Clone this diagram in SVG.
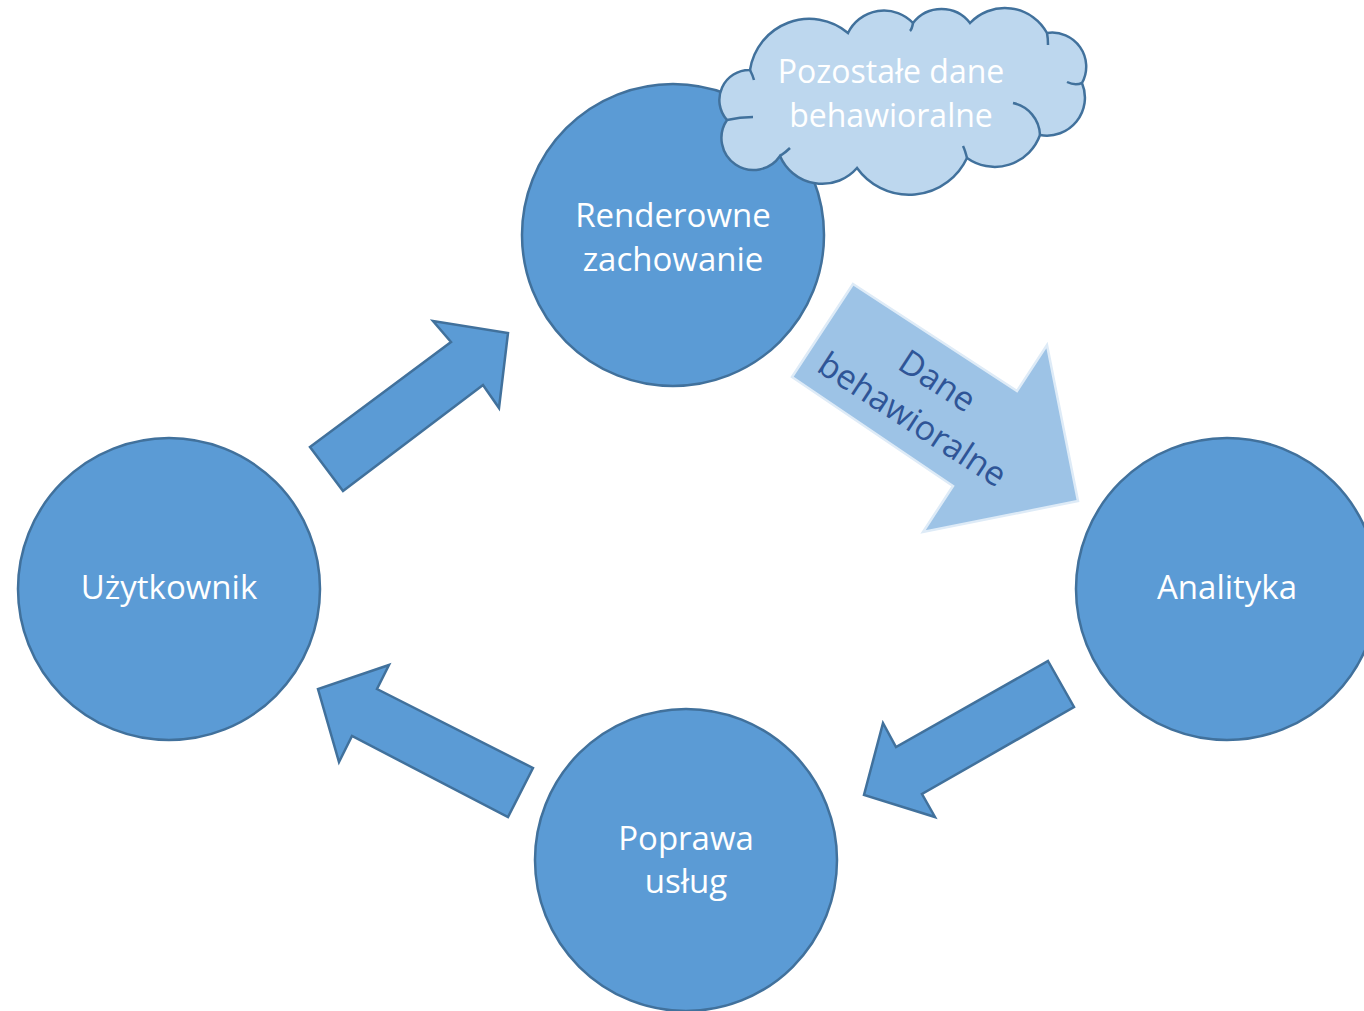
<svg xmlns="http://www.w3.org/2000/svg" width="1364" height="1011" viewBox="0 0 1364 1011">
<style>
.node{fill:#5b9bd5;stroke:#41719c;stroke-width:2.5}
.arrow{fill:#5b9bd5;stroke:#41719c;stroke-width:2.5;stroke-linejoin:miter}
.lt{font-family:"Open Sans","Liberation Sans",sans-serif;font-size:33px;fill:#ffffff;text-anchor:middle}
.ct{font-family:"Open Sans","Liberation Sans",sans-serif;font-size:32px;fill:#ffffff;text-anchor:middle}
.dt{font-family:"Open Sans","Liberation Sans",sans-serif;font-size:34px;fill:#2f5597;text-anchor:middle}
</style>
<rect width="1364" height="1011" fill="#ffffff"/>
<g id="connectors">
<polygon class="arrow" points="310,447 451,342 433,321 508,333 499,408 483,385 343,491"/>
<polygon class="arrow" points="1048,661 1074,707 922,794 935,817 864,795 883,723 896,747"/>
<polygon class="arrow" points="533,768 508,817 352,736 339,762 318,689 389,665 377,689"/>
<g id="dane-arrow">
<polygon points="853,284 1017,391 1047,345 1078,501 923,532 953,486 792,377" fill="#9dc3e6" stroke="#deebf7" stroke-width="2.5"/>
<g transform="translate(925,400) rotate(33)">
<text class="dt" x="0" y="-11">Dane</text>
<text class="dt" x="0" y="35">behawioralne</text>
</g>
</g>
</g>
<g id="renderowne">
<circle class="node" cx="673" cy="235" r="151"/>
<text class="lt" x="673" y="227">Renderowne</text>
<text class="lt" x="673" y="271">zachowanie</text>
</g>
<g id="cloud">
<path d="M750,70 A60,60 0 0 1 848,33 A40,40 0 0 1 913,23 A36,36 0 0 1 970,23 A48,48 0 0 1 1047,33 A34,34 0 0 1 1082,83 A38,38 0 0 1 1040,135 A48,48 0 0 1 967,158 A64,64 0 0 1 857,168 A46,46 0 0 1 780,156 A30,30 0 0 1 727,120 A30,30 0 0 1 750,70 Z" fill="#bdd7ee" stroke="#41719c" stroke-width="2.5"/>
<path d="M913,23 Q912,29 910,31 M1047,33 Q1048,38 1048,45 M1082,83 Q1075,86 1067,82 M1013,103 A34,34 0 0 1 1040,135 M967,158 Q965,150 963,146 M780,156 Q786,152 790,148 M727,120 Q740,117 753,117 M750,70 Q753,76 754,80" fill="none" stroke="#41719c" stroke-width="2.5"/>
<text class="ct" x="891" y="83">Pozostałe dane</text>
<text class="ct" x="891" y="127">behawioralne</text>
</g>
<g id="uzytkownik">
<circle class="node" cx="169" cy="589" r="151"/>
<text class="lt" x="169" y="599">Użytkownik</text>
</g>
<g id="analityka">
<circle class="node" cx="1227" cy="589" r="151"/>
<text class="lt" x="1227" y="599">Analityka</text>
</g>
<g id="poprawa">
<circle class="node" cx="686" cy="860" r="151"/>
<text class="lt" x="686" y="850">Poprawa</text>
<text class="lt" x="686" y="893">usług</text>
</g>
</svg>
